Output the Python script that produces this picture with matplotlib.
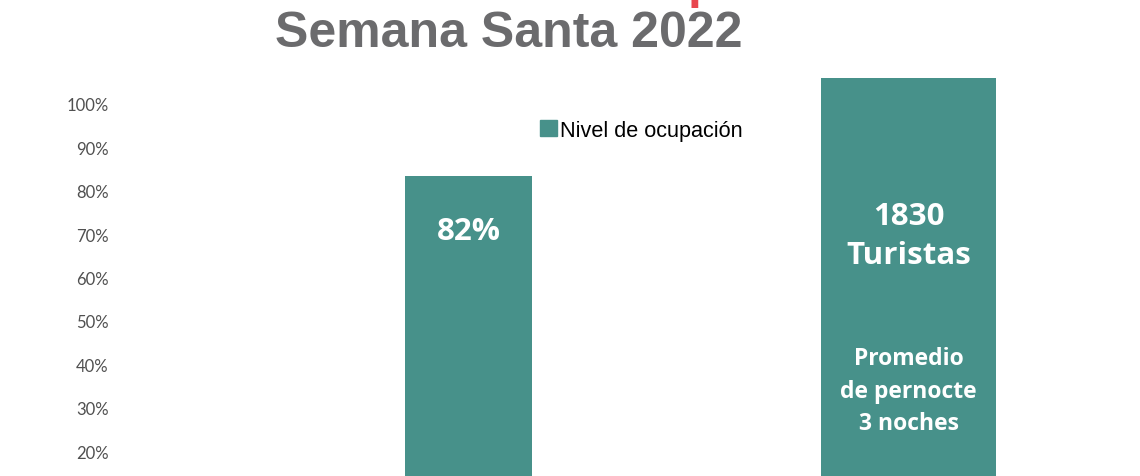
import matplotlib
matplotlib.use('Agg')
import matplotlib.pyplot as plt
from matplotlib.patches import Patch

# data
categories = ['Nivel de ocupación', 'Turistas']
values = [83.5, 106]          # bar heights in % as drawn
bar_labels = ['82%', '1830\nTuristas']
note = 'Promedio\nde pernocte\n3 noches'
ticks = [20, 30, 40, 50, 60, 70, 80, 90, 100]
tick_labels = ['%d%%' % t for t in ticks]

teal = '#47918a'
grey = '#6b6b6d'

fig = plt.figure(figsize=(11.4, 4.77), dpi=100)
ax = fig.add_axes([120 / 1140, 0, 1020 / 1140, 1])

x = [0, 1]
widths = [0.289, 0.398]
bars = ax.bar(x, values, width=widths, color=teal, bottom=0)

ax.set_xlim(-0.792, 1.526)
ax.set_ylim(14.24, 124.2)
ax.set_yticks(ticks)
ax.set_yticklabels(tick_labels, family='Lato', fontsize=12, color='#505050')
ax.tick_params(axis='y', length=0, pad=8)
ax.set_xticks([])
for s in ax.spines.values():
    s.set_visible(False)

# text inside bars
ax.text(x[0], 70.8, bar_labels[0], ha='center', va='center', color='white',
        family='Open Sans', fontweight='bold', fontsize=22.5)
ax.text(x[1], 69.7, bar_labels[1], ha='center', va='center', color='white',
        family='Open Sans', fontweight='bold', fontsize=22.5, linespacing=1.41)
ax.text(x[1], 33.9, note, ha='center', va='center', color='white',
        family='Open Sans', fontweight='bold', fontsize=16.5, linespacing=1.48)

# legend
h = [Patch(facecolor=teal, edgecolor=teal)]
fig.legend(h, [categories[0]], loc='center left', bbox_to_anchor=(540 / 1140, 1 - 131 / 477),
           frameon=False, borderpad=0, borderaxespad=0, handlelength=0.78, handleheight=0.78,
           handletextpad=0.15, prop={'family': 'Liberation Sans', 'size': 15.6})

# title (first line is cut off at the top of the picture)
fig.text(688 / 1140, 1 + 2 / 477, 'p', ha='left', va='baseline', color='#e8474f',
         family='Liberation Sans', fontweight='bold', fontsize=36)
fig.text(275 / 1140, 1 - 47 / 477, 'Semana Santa 2022', ha='left', va='baseline',
         color=grey, family='Liberation Sans', fontweight='bold', fontsize=36)

fig.savefig('out.png', dpi=100)
